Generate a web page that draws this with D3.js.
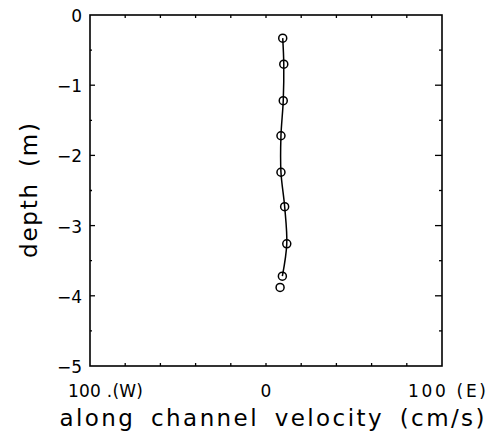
<!DOCTYPE html>
<html>
 <head>
  <script src="https://cdnjs.cloudflare.com/ajax/libs/d3/7.8.3/d3.min.js"></script>
  <style>
   body { margin: 0; background: #fff; }
   text { font-family: "DejaVu Sans", sans-serif; fill: #000; }
   .title { word-spacing: 6px; }
  </style>
 </head>
 <body>
  <script>
   // measured profile: depth (m) and along-channel velocity (cm/s)
   const depths = [-0.33, -0.70, -1.22, -1.72, -2.24, -2.73, -3.26, -3.72, -3.88];
   const velocity = [9.5, 10.1, 9.8, 8.5, 8.5, 10.6, 11.8, 9.3, 8.0];
   const yTicks = [0, -1, -2, -3, -4, -5];
   const xTickLabels = [[-100, "100 .(W)"], [0, "0"], [100, "100 (E)"]];

   const w = 492, h = 441;
   const padL = 90, padR = 442, padT = 15, padB = 366;

   const svg = d3.select("body").append("svg")
                 .attr("width", w)
                 .attr("height", h);

   const x = d3.scaleLinear().domain([-100, 100]).range([padL, padR]);
   const y = d3.scaleLinear().domain([-5, 0]).range([padB, padT]);

   // frame
   svg.append("rect")
      .attr("x", padL).attr("y", padT)
      .attr("width", padR - padL).attr("height", padB - padT)
      .attr("fill", "none").attr("stroke", "#000").attr("stroke-width", 1.6);

   // inward ticks on all four sides
   const xMinor = d3.range(-80, 100, 20);
   const yMinor = d3.range(-4.5, 0, 0.5);
   const tickG = svg.append("g").attr("stroke", "#000").attr("stroke-width", 1.3);
   tickG.selectAll(".xt").data(xMinor).enter().append("line")
        .attr("x1", d => x(d)).attr("x2", d => x(d))
        .attr("y1", padT).attr("y2", padT + 3);
   tickG.selectAll(".xb").data(xMinor).enter().append("line")
        .attr("x1", d => x(d)).attr("x2", d => x(d))
        .attr("y1", padB).attr("y2", padB - 3);
   tickG.selectAll(".yl").data(yMinor).enter().append("line")
        .attr("x1", padL).attr("x2", d => padL + (Number.isInteger(d) ? 5 : 2))
        .attr("y1", d => y(d)).attr("y2", d => y(d));
   tickG.selectAll(".yr").data(yMinor).enter().append("line")
        .attr("x1", padR).attr("x2", d => padR - (Number.isInteger(d) ? 7 : 3))
        .attr("y1", d => y(d)).attr("y2", d => y(d));

   // y tick labels
   svg.selectAll(".ylab").data(yTicks).enter().append("text")
      .attr("x", padL - 8)
      .attr("y", d => y(d) + 7)
      .attr("text-anchor", "end")
      .style("font-size", "17px")
      .text(d => d === 0 ? "0" : "\u2212" + Math.abs(d));

   // x tick labels
   svg.selectAll(".xlab").data(xTickLabels).enter().append("text")
      .attr("x", d => d[0] === -100 ? 68 : d[0] === 100 ? 408 : x(d[0]))
      .attr("y", 397)
      .attr("text-anchor", d => d[0] === 0 ? "middle" : "start")
      .attr("textLength", d => d[0] === -100 ? 75 : d[0] === 100 ? 78 : null)
      .style("font-size", "17px")
      .text(d => d[1]);

   // axis titles
   svg.append("text")
      .attr("class", "title")
      .attr("x", 272).attr("y", 426)
      .attr("text-anchor", "middle")
      .attr("textLength", 425)
      .style("font-size", "23px")
      .text("along channel velocity (cm/s)");
   svg.append("text")
      .attr("class", "title")
      .attr("transform", "translate(37," + y(-2.5) + ") rotate(-90)")
      .attr("text-anchor", "middle")
      .attr("textLength", 135)
      .style("font-size", "23px")
      .text("depth (m)");

   // profile
   const pts = depths.map((d, i) => [velocity[i], d]);
   const line = d3.line()
                  .x(d => x(d[0]))
                  .y(d => y(d[1]))
                  .curve(d3.curveCatmullRom);
   svg.append("path")
      .datum(pts.slice(0, 8))
      .attr("d", line)
      .attr("fill", "none")
      .attr("stroke", "#000")
      .attr("stroke-width", 1.5);
   svg.selectAll("circle").data(pts).enter().append("circle")
      .attr("cx", d => x(d[0]))
      .attr("cy", d => y(d[1]))
      .attr("r", 4)
      .attr("fill", "none")
      .attr("stroke", "#000")
      .attr("stroke-width", 1.5);
  </script>
 </body>
</html>
